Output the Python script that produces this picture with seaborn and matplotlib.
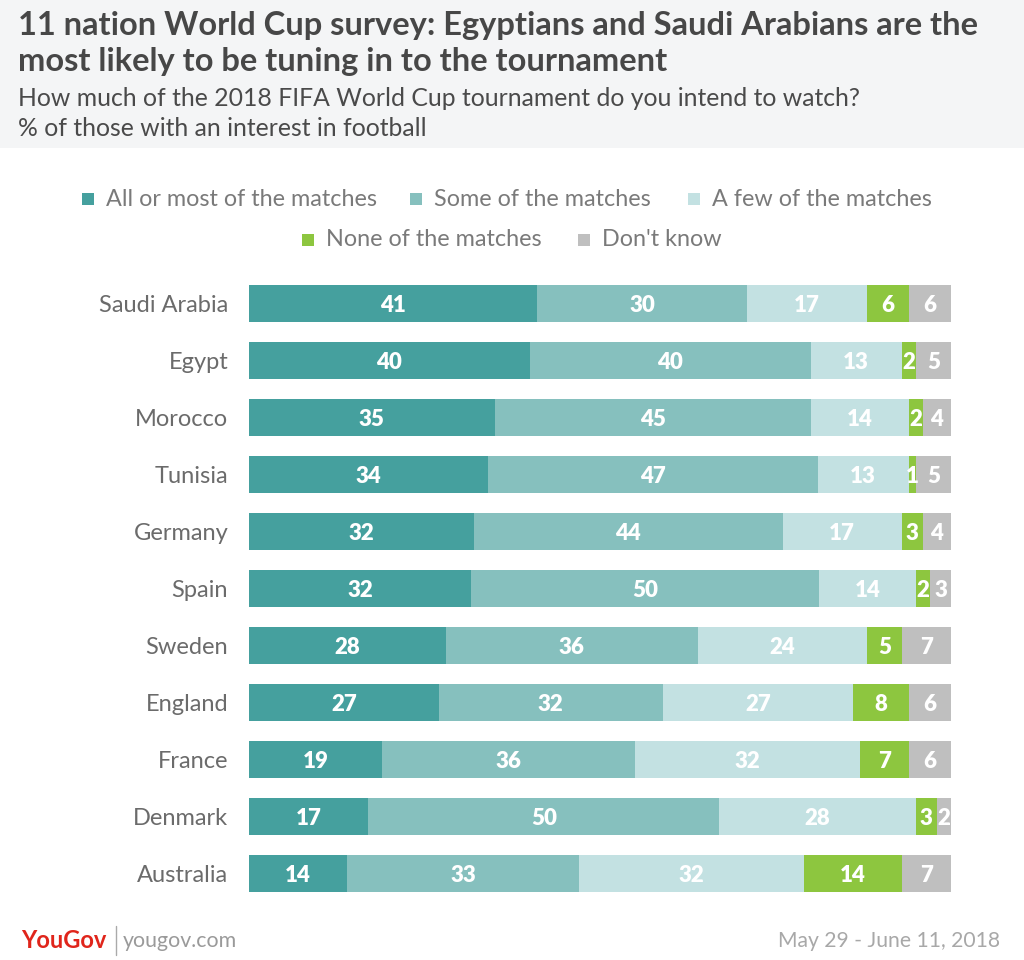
import numpy as np
import pandas as pd
import matplotlib
matplotlib.use("Agg")
import matplotlib.pyplot as plt
from matplotlib.patches import Rectangle
import seaborn as sns

# Data
countries = ["Saudi Arabia", "Egypt", "Morocco", "Tunisia", "Germany", "Spain",
             "Sweden", "England", "France", "Denmark", "Australia"]
categories = ["All or most of the matches", "Some of the matches",
              "A few of the matches", "None of the matches", "Don't know"]
all_most = [41, 40, 35, 34, 32, 32, 28, 27, 19, 17, 14]
some = [30, 40, 45, 47, 44, 50, 36, 32, 36, 50, 33]
a_few = [17, 13, 14, 13, 17, 14, 24, 27, 32, 28, 32]
none = [6, 2, 2, 1, 3, 2, 5, 8, 7, 3, 14]
dont_know = [6, 5, 4, 5, 4, 3, 7, 6, 6, 2, 7]

colors = ["#45a09e", "#86c0be", "#c3e1e2", "#8dc63f", "#bfbfbf"]

vals = np.array([all_most, some, a_few, none, dont_know], dtype=float).T
# bars all span the full width, so scale each row to its own total
shares = vals / vals.sum(axis=1, keepdims=True) * 100
cum = np.cumsum(shares, axis=1)

sns.set_theme(style="white")
plt.rcParams["font.family"] = ["Lato", "DejaVu Sans"]

fig = plt.figure(figsize=(10.24, 9.6), dpi=100)
fig.patch.set_facecolor("white")
fig.patches.append(Rectangle((0, 1 - 148 / 960), 1, 148 / 960, transform=fig.transFigure,
                             facecolor="#f4f5f6", edgecolor="none", zorder=0))

ax = fig.add_axes([249 / 1024, 1 - 902 / 960, 702 / 1024, 627 / 960])

# stacked bars: draw the running totals from the widest down
for i in range(len(categories) - 1, -1, -1):
    df = pd.DataFrame({"country": countries, "value": cum[:, i]})
    sns.barplot(data=df, x="value", y="country", color=colors[i], orient="h",
                width=0.66, saturation=1, ax=ax, order=countries, linewidth=0)

for r in range(len(countries)):
    for i in range(len(categories)):
        mid = cum[r, i] - shares[r, i] / 2
        ax.text(mid, r + 0.03, f"{int(vals[r, i])}", ha="center", va="center",
                color="white", fontsize=16, fontweight="heavy")

ax.set_xlim(0, 100)
ax.set_ylim(len(countries) - 0.5, -0.5)
ax.set_xlabel("")
ax.set_ylabel("")
ax.set_xticks([])
sns.despine(ax=ax, left=True, bottom=True)
ax.tick_params(axis="y", length=0, pad=15, labelsize=17, labelcolor="#6b6b6b")
ax.set_facecolor("none")

# titles
fig.text(18 / 1024, 1 - 25 / 960, "11 nation World Cup survey: Egyptians and Saudi Arabians are the",
         fontsize=23.5, fontweight="bold", color="#474747", va="center")
fig.text(18 / 1024, 1 - 62 / 960, "most likely to be tuning in to the tournament",
         fontsize=23.5, fontweight="bold", color="#474747", va="center")
fig.text(18 / 1024, 1 - 99 / 960, "How much of the 2018 FIFA World Cup tournament do you intend to watch?",
         fontsize=17.8, color="#4a4a4a", va="center")
fig.text(18 / 1024, 1 - 128 / 960, "% of those with an interest in football",
         fontsize=17.8, color="#4a4a4a", va="center")

# legend, laid out by hand in two centred rows
legend_pos = [(88, 199), (416, 199), (694, 199), (308, 240), (584, 240)]
for (px, py), lab, c in zip(legend_pos, categories, colors):
    fig.patches.append(Rectangle((px / 1024 - 6 / 1024, 1 - (py + 6) / 960), 12 / 1024, 12 / 960,
                                 transform=fig.transFigure, facecolor=c, edgecolor="none"))
    fig.text((px + 18) / 1024, 1 - py / 960, lab, fontsize=16.8, color="#7a7a7a", va="center")

# footer
fig.text(21 / 1024, 1 - 941 / 960, "YouGov", fontsize=17, fontweight="bold", color="#e0251b",
         va="center")
fig.lines.append(plt.Line2D([116 / 1024, 116 / 1024], [1 - 926 / 960, 1 - 955 / 960],
                            transform=fig.transFigure, color="#aaaaaa", lw=1))
fig.text(123 / 1024, 1 - 941 / 960, "yougov.com", fontsize=15.4, color="#9a9a9a", va="center")
fig.text(1000 / 1024, 1 - 941 / 960, "May 29 - June 11, 2018", fontsize=15.2, color="#a8a8a8",
         va="center", ha="right")

fig.savefig("out.png", dpi=100)
